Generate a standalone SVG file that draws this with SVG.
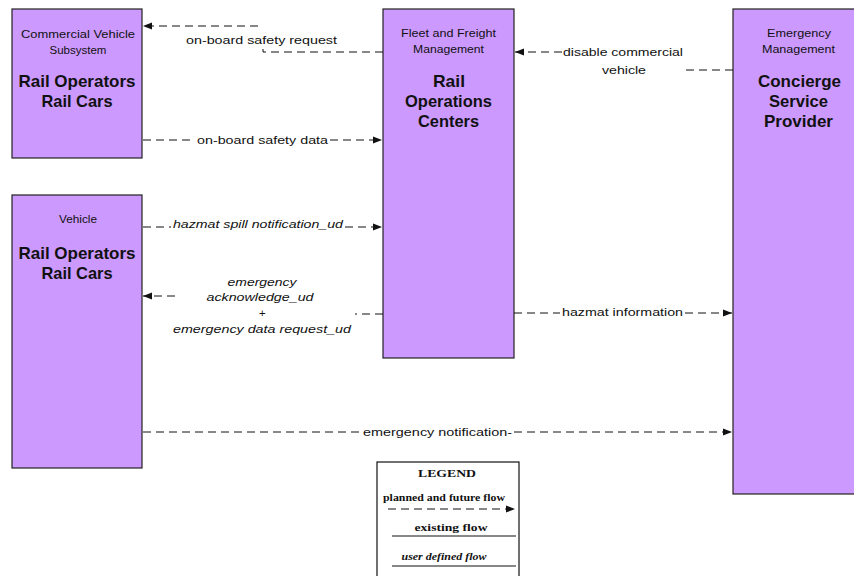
<svg xmlns="http://www.w3.org/2000/svg" width="854" height="576" viewBox="0 0 854 576">
<style>
.node{fill:#CC99FF;stroke:#222;stroke-width:1.2}
.sm{font-family:"Liberation Sans",Arial,sans-serif;font-size:11.5px;fill:#111;text-anchor:middle}
.big{font-family:"Liberation Sans",Arial,sans-serif;font-size:17px;font-weight:bold;fill:#111;text-anchor:middle}
.lbl{font-family:"Liberation Sans",Arial,sans-serif;font-size:11.5px;fill:#111}
.it{font-style:italic}
.fl{fill:none;stroke:#111;stroke-width:1;stroke-dasharray:8,5}
.lg{font-family:"Liberation Serif","Times New Roman",serif;font-size:10.5px;font-weight:bold;fill:#111;text-anchor:middle}
</style>
<defs>
<marker id="ah" viewBox="0 0 10 10" refX="10" refY="5" markerWidth="9" markerHeight="9" markerUnits="userSpaceOnUse" orient="auto">
<path d="M0,1 L10,5 L0,9 z" fill="#111"/>
</marker>
</defs>
<rect width="854" height="576" fill="#fff"/>
<g id="cvs">
<rect class="node" x="12" y="9" width="130" height="149"/>
<text class="sm" x="78" y="38" textLength="114" lengthAdjust="spacingAndGlyphs">Commercial Vehicle</text>
<text class="sm" x="78" y="54">Subsystem</text>
<text class="big" x="77" y="87" textLength="117" lengthAdjust="spacingAndGlyphs">Rail Operators</text>
<text class="big" x="77" y="107" textLength="71" lengthAdjust="spacingAndGlyphs">Rail Cars</text>
</g>
<g id="vehicle">
<rect class="node" x="12" y="195" width="130" height="273"/>
<text class="sm" x="78" y="223" textLength="38" lengthAdjust="spacingAndGlyphs">Vehicle</text>
<text class="big" x="77" y="259" textLength="117" lengthAdjust="spacingAndGlyphs">Rail Operators</text>
<text class="big" x="77" y="279" textLength="71" lengthAdjust="spacingAndGlyphs">Rail Cars</text>
</g>
<g id="roc">
<rect class="node" x="383" y="9" width="131" height="349"/>
<text class="sm" x="448.5" y="37" textLength="95" lengthAdjust="spacingAndGlyphs">Fleet and Freight</text>
<text class="sm" x="448.5" y="53" textLength="71" lengthAdjust="spacingAndGlyphs">Management</text>
<text class="big" x="449" y="87" textLength="32" lengthAdjust="spacingAndGlyphs">Rail</text>
<text class="big" x="448.5" y="107" textLength="87" lengthAdjust="spacingAndGlyphs">Operations</text>
<text class="big" x="448.5" y="127" textLength="61" lengthAdjust="spacingAndGlyphs">Centers</text>
</g>
<g id="csp">
<rect class="node" x="733" y="9" width="133" height="485"/>
<text class="sm" x="799" y="37" textLength="64" lengthAdjust="spacingAndGlyphs">Emergency</text>
<text class="sm" x="798.5" y="53" textLength="73" lengthAdjust="spacingAndGlyphs">Management</text>
<text class="big" x="799.5" y="87" textLength="83" lengthAdjust="spacingAndGlyphs">Concierge</text>
<text class="big" x="798.5" y="107" textLength="59" lengthAdjust="spacingAndGlyphs">Service</text>
<text class="big" x="798.5" y="127" textLength="69" lengthAdjust="spacingAndGlyphs">Provider</text>
</g>
<g id="connectors">
<path class="fl" d="M383,52 H263 V49"/>
<path class="fl" d="M258,26 H143" marker-end="url(#ah)"/>
<text class="lbl" x="186" y="44" textLength="151" lengthAdjust="spacingAndGlyphs">on-board safety request</text>
<path class="fl" d="M143,140 H195"/>
<path class="fl" d="M330,140 H382" marker-end="url(#ah)"/>
<text class="lbl" x="197" y="144" textLength="131" lengthAdjust="spacingAndGlyphs">on-board safety data</text>
<path class="fl" d="M733,70 H685"/>
<path class="fl" d="M562,52 H515" marker-end="url(#ah)"/>
<text class="lbl" x="563" y="56" textLength="120" lengthAdjust="spacingAndGlyphs">disable commercial</text>
<text class="sm" x="624" y="74" textLength="44" lengthAdjust="spacingAndGlyphs">vehicle</text>
<path class="fl" d="M143,227 H171"/>
<path class="fl" d="M345,227 H382" marker-end="url(#ah)"/>
<text class="lbl it" x="173" y="228" textLength="170" lengthAdjust="spacingAndGlyphs">hazmat spill notification_ud</text>
<path class="fl" d="M383,314 H355"/>
<path class="fl" d="M175,296 H143" marker-end="url(#ah)"/>
<text class="sm it" x="262" y="286" textLength="69" lengthAdjust="spacingAndGlyphs">emergency</text>
<text class="sm it" x="260" y="301" textLength="107" lengthAdjust="spacingAndGlyphs">acknowledge_ud</text>
<text class="sm it" x="262" y="317">+</text>
<text class="sm it" x="262" y="333" textLength="178" lengthAdjust="spacingAndGlyphs">emergency data request_ud</text>
<path class="fl" d="M514,313 H560"/>
<path class="fl" d="M685,313 H732" marker-end="url(#ah)"/>
<text class="lbl" x="562" y="316" textLength="121" lengthAdjust="spacingAndGlyphs">hazmat information</text>
<path class="fl" d="M143,432 H361"/>
<path class="fl" d="M514,432 H732" marker-end="url(#ah)"/>
<text class="lbl" x="363" y="436" textLength="149" lengthAdjust="spacingAndGlyphs">emergency notification-</text>
</g>
<g id="legend">
<rect x="377" y="462" width="142" height="116" fill="#fff" stroke="#111" stroke-width="1.2"/>
<text class="lg" x="447" y="477" textLength="58" lengthAdjust="spacingAndGlyphs">LEGEND</text>
<text class="lg" x="444" y="501" textLength="122" lengthAdjust="spacingAndGlyphs">planned and future flow</text>
<path class="fl" d="M388,509 H515" stroke-dasharray="5,4" marker-end="url(#ah)"/>
<text class="lg" x="451" y="531" textLength="73" lengthAdjust="spacingAndGlyphs">existing flow</text>
<path d="M392,536 H516" stroke="#111" stroke-width="1"/>
<text class="lg" x="444" y="560" font-style="italic" textLength="85" lengthAdjust="spacingAndGlyphs">user defined flow</text>
<path d="M392,566 H516" stroke="#111" stroke-width="1"/>
</g>
</svg>
